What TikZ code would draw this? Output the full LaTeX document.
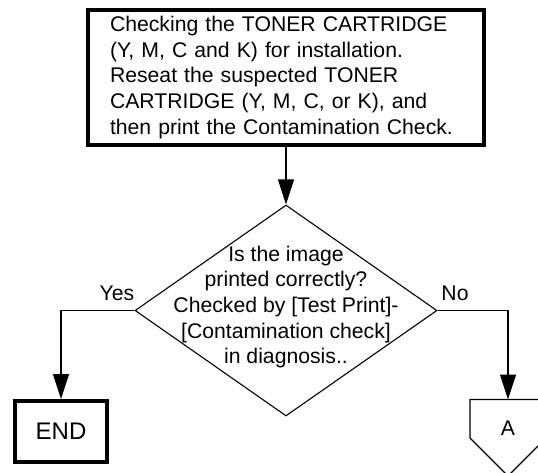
\documentclass[tikz,border=0pt]{standalone}
\usepackage{fontspec}
\setmainfont{Liberation Sans}
\usetikzlibrary{shapes.geometric,arrows.meta}

\tikzset{
  thickbox/.style={draw, rectangle, line width=4pt, inner sep=0pt},
  flowline/.style={line width=1.1pt},
  flowarrow/.style={flowline, -{Triangle[length=25pt,width=16pt]}},
  flowtext/.style={font=\fontsize{21.2}{25.7}\selectfont}
}

\begin{document}
\begin{tikzpicture}[x=1pt, y=-1pt, line join=miter]
    \useasboundingbox (0,0) rectangle (538,472);
    % boxes
    \node[thickbox, flowtext, text width=352pt, inner xsep=22pt, align=left,
          minimum height=135pt] (chk) at (286,77.5)
      {Checking the TONER CARTRIDGE\\
       (Y, M, C and K) for installation.\\
       Reseat the suspected TONER\\
       CARTRIDGE (Y, M, C, or K), and\\
       then print the Contamination Check.};
    \node[draw, diamond, flowline, inner sep=0pt,
          minimum width=302pt, minimum height=211pt] (dec) at (286,310.5) {};
    \node[flowtext, align=center] (dectext) at (286,307)
      {Is the image\\printed correctly?\\Checked by [Test Print]-\\{[Contamination check]}\\in diagnosis..};
    \node[thickbox, minimum width=92pt, minimum height=61pt,
          font=\fontsize{24}{28}\selectfont] (endbox) at (61,431.5) {END};
    % off-page connector
    \coordinate (Atop) at (508,399.5);
    \draw[flowline] (Atop) -- ++(-38,0) -- ++(0,38.5) -- (508,476) -- (546,438) -- (546,399.5) -- cycle;
    \node[flowtext] (conA) at (508,428) {A};
    % connectors
    \draw[flowarrow] (chk.south -| dec.north) -- (dec.north);
    \draw[flowarrow] (dec.west) -| (endbox.north);
    \draw[flowarrow] (dec.east) -| (Atop);
    \node[flowtext] (yes) at (117,293) {Yes};
    \node[flowtext] (no) at (455,293) {No};
\end{tikzpicture}
\end{document}
